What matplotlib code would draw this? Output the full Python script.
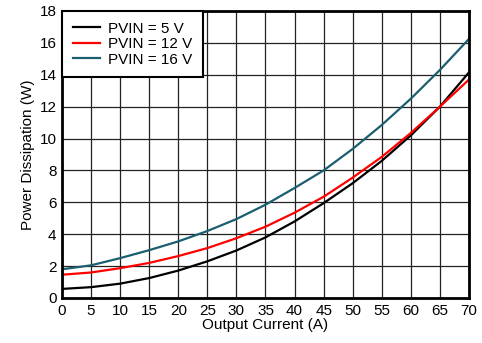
import matplotlib.pyplot as plt

plt.rcParams['font.family'] = ['Liberation Sans', 'DejaVu Sans']

current = [0, 5, 10, 15, 20, 25, 30, 35, 40, 45, 50, 55, 60, 65, 70]
pd_5v = [0.57, 0.68, 0.9, 1.25, 1.72, 2.3, 2.98, 3.8, 4.8, 5.95, 7.2, 8.6, 10.2, 12.0, 14.15]
pd_12v = [1.46, 1.6, 1.87, 2.2, 2.63, 3.13, 3.75, 4.47, 5.35, 6.35, 7.55, 8.85, 10.35, 12.0, 13.7]
pd_16v = [1.8, 2.05, 2.5, 3.0, 3.55, 4.2, 4.95, 5.85, 6.9, 8.0, 9.35, 10.85, 12.5, 14.3, 16.25]

fig = plt.figure(figsize=(4.82, 3.43), dpi=100)
ax = fig.add_axes([0.1286, 0.1312, 0.8444, 0.8368])

ax.plot(current, pd_5v, color='black', lw=1.6, label='PVIN = 5 V')
ax.plot(current, pd_12v, color='#ff0000', lw=1.6, label='PVIN = 12 V')
ax.plot(current, pd_16v, color='#1a5e70', lw=1.6, label='PVIN = 16 V')

ax.set_xlim(0, 70)
ax.set_ylim(0, 18)
ax.set_xticks(range(0, 71, 5))
ax.set_yticks(range(0, 19, 2))
ax.grid(True, color='#222222', lw=0.9)
ax.set_axisbelow(True)
ax.tick_params(length=0, labelsize=11, pad=4)
for s in ax.spines.values():
    s.set_linewidth(2)

ax.set_xlabel('Output Current (A)', fontsize=11, labelpad=0)
ax.set_ylabel('Power Dissipation (W)', fontsize=11, labelpad=3)

leg = ax.legend(loc='upper left', fontsize=11, fancybox=False, framealpha=1,
                edgecolor='black', borderaxespad=0, handlelength=1.8,
                labelspacing=0.1, borderpad=0.7, handletextpad=0.5)
leg.get_frame().set_linewidth(1.5)

fig.savefig('out.png', dpi=100)
